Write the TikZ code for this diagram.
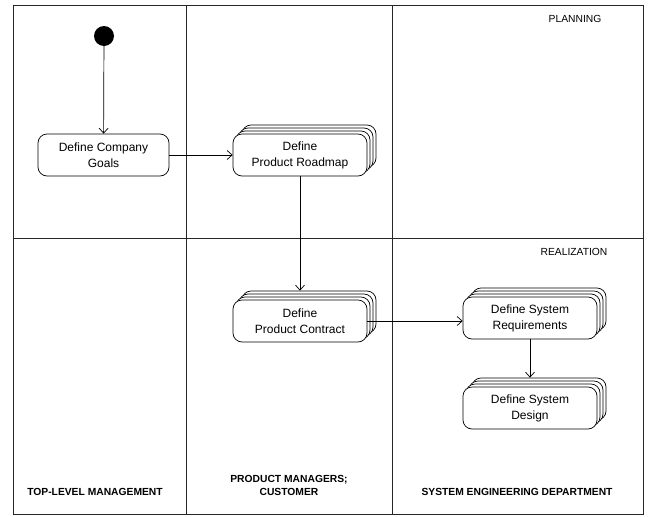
\documentclass[tikz,border=0pt]{standalone}
\usepackage{fontspec}
\setmainfont{Liberation Sans}
\usetikzlibrary{arrows.meta,shadows}
\begin{document}
\begin{tikzpicture}[x=1pt,y=-1pt,
  lane/.style={draw=black!85,line width=0.9pt},
  act/.style={draw,line width=0.7pt,fill=white,rounded corners=9pt,
    minimum width=134pt,minimum height=42pt,align=center,inner sep=2pt,
    font=\fontsize{12}{16}\selectfont},
  stacked/.style={
    copy shadow={shadow xshift=9pt,shadow yshift=9pt,line width=0.7pt},
    copy shadow={shadow xshift=6pt,shadow yshift=6pt,line width=0.7pt},
    copy shadow={shadow xshift=3pt,shadow yshift=3pt,line width=0.7pt}},
  flow/.style={draw,line width=0.7pt,-{Straight Barb[length=5pt,width=9pt]}},
  phase/.style={font=\fontsize{10.3}{12}\selectfont},
  lanelabel/.style={font=\fontsize{10.3}{13}\selectfont\bfseries,align=center}]

\useasboundingbox (0,0) rectangle (651,517);

% swimlane frame
\coordinate (tl) at (13,5);
\coordinate (br) at (643,514);
\draw[lane] (tl) rectangle (br);
\draw[lane] (186,5) -- (186,514);
\draw[lane] (392,5) -- (392,514);
\draw[lane] (13,238) -- (643,238);

% phase and lane titles
\node[phase] (planning) at (575,19) {PLANNING};
\node[phase] (realization) at (574,252) {REALIZATION};
\node[lanelabel] (lane1) at (95,492) {TOP-LEVEL MANAGEMENT};
\node[lanelabel] (lane2) at (289,485) {PRODUCT MANAGERS;\\CUSTOMER};
\node[lanelabel] (lane3) at (517,492) {SYSTEM ENGINEERING DEPARTMENT};

% activities
\node[circle,fill,minimum size=20pt,inner sep=0pt] (start) at (104,36) {};
\node[act,minimum width=131pt] (goals) at (103.5,155) {Define Company\\Goals};
\node[act,stacked] (roadmap) at (300,155) {Define\\Product Roadmap};
\node[act,stacked] (contract) at (300,321) {Define\\Product Contract};
\node[act,stacked] (req) at (530,318) {Define System\\Requirements};
\node[act,stacked] (design) at (530,408) {Define System\\Design};

% control flow
\draw[flow] (start) -- (goals);
\draw[flow] (goals) -- (roadmap);
\draw[flow] (roadmap.south) -- ([yshift=9pt]contract.north);
\draw[flow] (contract.east) -- (contract.east -| req.west);
\draw[flow] (req.south -| design.north) -- ([yshift=9pt]design.north);
\end{tikzpicture}
\end{document}
